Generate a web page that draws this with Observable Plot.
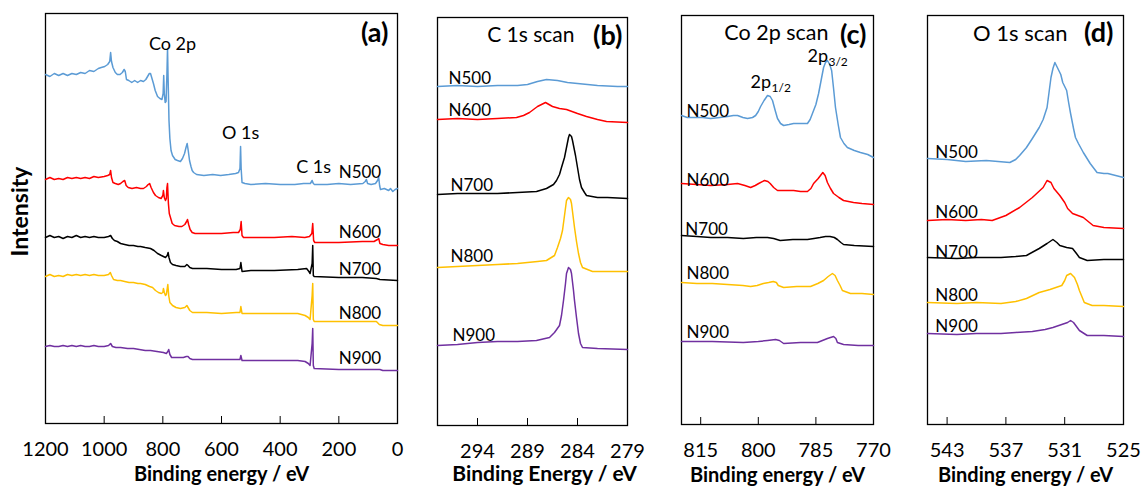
<!DOCTYPE html>
<html><head><meta charset="utf-8">
<script src="https://cdn.jsdelivr.net/npm/d3@7"></script>
<script src="https://cdn.jsdelivr.net/npm/@observablehq/plot@0.6"></script>
<style>
body{margin:0;background:#fff;}
#chart{position:relative;width:1142px;height:486px;}
#chart svg{position:absolute;top:0;overflow:visible;}
</style></head><body><div id="chart"></div>
<script>
const samples = ["N500", "N600", "N700", "N800", "N900"];
const colors = ["#5B9BD5", "#FF0000", "#000000", "#FFC000", "#7030A0"];

// (a) survey: [binding energy eV, intensity a.u.]
const surveyN500 = [[1200,349],[1185,347],[1170,350],[1155,348],[1140,350],[1125,348],[1110,350],[1095,349],[1080,351],[1065,350],[1050,353],[1035,352],[1020,355],[1010,356],[998,357],[988,359],[981,362],[978,371],[975,362],[970,356],[962,351],[955,349],[946,349],[938,351],[932,354],[928,352],[924,344],[916,343],[906,341],[896,343],[886,341],[876,343],[866,342],[858,344],[852,347],[846,350],[842,350],[838,346],[832,340],[826,333],[818,327],[810,325],[803,324],[799,330],[797,348],[795,330],[792,321],[789,322],[786,350],[784,375],[782,345],[779,303],[776,285],[772,273],[767,268],[758,264],[750,263],[740,262],[733,265],[726,270],[721,276],[717,280],[713,272],[709,263],[704,257],[700,253],[695,251],[685,249],[660,248],[630,249],[603,248],[575,249],[552,250],[542,251],[537,255],[535,277],[533,255],[530,241],[520,240],[500,239],[450,240],[400,239],[350,239],[320,240],[297,240],[291,243],[287,240],[283,239],[240,239],[200,240],[160,239],[118,240],[110,242],[106,244],[102,240],[90,239],[75,240],[68,243],[64,246],[61,238],[58,234],[45,235],[30,233],[24,235],[16,232],[8,234],[0,235]];
const surveyN600 = [[1200,244],[1185,246],[1170,244],[1155,245],[1140,244],[1125,246],[1110,245],[1095,246],[1080,245],[1065,246],[1050,245],[1035,247],[1020,246],[1000,247],[988,248],[981,249],[978,253],[975,246],[970,241],[962,240],[952,239],[944,240],[936,242],[930,243],[925,238],[918,236],[905,235],[890,236],[876,235],[866,235],[856,237],[850,239],[845,240],[840,236],[832,231],[825,228],[815,226],[806,225],[800,228],[798,233],[795,226],[791,223],[788,225],[786,236],[784,240],[781,220],[778,210],[774,206],[768,200],[760,198],[745,197],[735,197],[725,199],[719,202],[716,204],[712,199],[707,194],[700,191],[690,190],[650,190],[600,190],[560,191],[542,191],[536,194],[533,202],[530,188],[525,186],[480,186],[420,186],[360,187],[316,186],[300,187],[292,190],[289,200],[286,183],[282,181],[200,181],[120,182],[80,182],[68,184],[64,185],[60,180],[50,179],[30,178],[0,178]];
const surveyN700 = [[1200,186],[1185,188],[1170,186],[1155,187],[1140,185],[1125,187],[1110,186],[1095,188],[1080,186],[1065,187],[1050,186],[1035,187],[1020,186],[1000,186],[985,187],[978,188],[972,185],[965,183],[955,182],[944,180],[930,179],[915,178],[900,178],[885,177],[876,177],[860,176],[842,175],[830,173],[818,170],[805,168],[791,166],[785,168],[782,171],[779,166],[774,161],[767,159],[755,158],[740,157],[725,157],[718,159],[714,158],[708,156],[699,155],[650,155],[600,154],[550,154],[537,155],[534,161],[530,152],[500,153],[420,153],[340,154],[310,155],[302,152],[298,150],[291,160],[289,178],[287,148],[284,147],[200,146],[120,146],[72,145],[60,144],[0,143]];
const surveyN800 = [[1200,147],[1185,149],[1170,147],[1155,148],[1140,147],[1125,149],[1110,148],[1095,149],[1080,148],[1065,149],[1050,148],[1035,149],[1020,148],[1000,148],[985,149],[979,151],[975,148],[968,144],[955,143],[944,143],[930,142],[915,141],[900,141],[885,140],[876,140],[860,139],[845,137],[835,136],[825,133],[815,131],[805,130],[800,131],[798,135],[795,131],[791,128],[788,129],[785,135],[783,139],[780,128],[776,121],[767,118],[755,116],[740,115],[725,116],[718,118],[714,116],[708,113],[699,111],[650,111],[600,110],[550,111],[537,111],[534,117],[530,110],[500,110],[420,110],[340,110],[315,108],[304,106],[298,104],[291,128],[289,140],[287,104],[284,102],[200,102],[120,102],[72,102],[62,99],[50,98],[0,98]];
const surveyN900 = [[1200,77],[1185,78],[1170,77],[1155,77],[1140,78],[1125,77],[1110,78],[1095,77],[1080,78],[1065,77],[1050,77],[1035,78],[1020,77],[1000,77],[985,78],[978,80],[972,77],[960,76],[944,76],[920,75],[900,75],[880,74],[860,73],[842,73],[820,72],[798,71],[788,70],[783,72],[780,74],[776,69],[770,66],[750,66],[730,66],[720,67],[714,67],[708,65],[699,64],[650,64],[600,64],[550,64],[537,64],[534,68],[530,63],[500,63],[420,63],[340,63],[315,62],[304,60],[298,58],[291,80],[289,95],[287,58],[284,55],[200,54],[120,54],[60,54],[50,53],[0,53]];

// (b) C 1s
const c1sN500 = [[298,339],[296,340],[294,339],[292,340],[290,340],[289,341],[288,344],[287.1,346],[286,345],[285,343],[284,342],[283,341],[282,340],[280,339],[279,339]];
const c1sN600 = [[298,306],[296,307],[294,306],[292,307],[290.1,308],[289.4,310],[288.8,313],[288,319],[287.2,323],[286.5,319],[285.8,317],[285.1,316],[284,312],[283.1,309],[282,306],[281.1,304],[279,303]];
const c1sN700 = [[298,231],[296,232],[294,232],[292,232],[290,233],[288.1,234],[287.1,237],[286.4,241],[286.1,245],[285.8,251],[285.6,258],[285.3,268],[285.1,278],[284.9,288],[284.8,291],[284.6,289],[284.5,285],[284.2,270],[284.0,258],[283.8,246],[283.6,238],[283.3,233],[283.1,230],[282,228],[281,228],[279,227]];
const c1sN800 = [[298,158],[296,159],[294,160],[292,161],[290,162],[288,164],[287.1,165],[286.3,170],[286.0,178],[285.7,187],[285.5,195],[285.3,210],[285.1,225],[284.9,228],[284.7,226],[284.6,222],[284.3,198],[284.1,184],[283.9,172],[283.7,163],[283.5,158],[283,156],[282.5,154],[281,154],[279,154]];
const c1sN900 = [[298,80],[296,81],[294,83],[292,84],[290,84],[288.1,85],[286.8,88],[286.3,93],[285.8,100],[285.6,110],[285.4,125],[285.2,142],[285.1,152],[284.9,158],[284.7,156],[284.6,152],[284.4,135],[284.3,125],[284.1,108],[283.9,92],[283.7,82],[283.5,78],[282,77],[279,76]];

// (c) Co 2p
const co2pN500 = [[820,309],[818.5,307],[816.9,307],[814.5,307],[812.4,306],[810,307],[808,308],[806.5,309],[805.4,309],[804,307],[802.8,306],[801.5,307],[800.7,309],[800,313],[799.4,318],[798.5,324],[797.6,329],[796.9,328],[796.3,324],[795.6,314],[795,306],[794.2,301],[793.4,299],[792,300],[790.8,301],[789,301],[787.2,301],[786.5,305],[785.9,311],[785,320],[784.3,331],[783.6,345],[783,357],[782.5,362],[782,364],[781.4,360],[780.9,354],[780.4,336],[779.9,317],[779.2,300],[778.6,287],[777.7,281],[776.8,277],[775,274],[773.4,272],[771.5,270],[770,267]];
const co2pN600 = [[820,241],[816,240],[812.4,239],[808,240],[805.4,241],[803.5,239],[802,237],[800.8,239],[799.9,241],[798.4,244],[797.5,243],[796.9,241],[796,237],[795,234],[793,234],[790.8,234],[789,233],[787.2,233],[786.3,236],[785.6,241],[784.4,246],[783.2,252],[782.6,249],[782,242],[781.2,236],[780.4,231],[779,227],[777.8,224],[775.2,222],[773,221],[770,220]];
const co2pN700 = [[820,189],[816,188],[812.4,187],[808,187],[803.9,186],[800.5,187],[797.6,187],[796,186],[794.3,184],[791,185],[787.2,185],[785.5,186],[783.9,187],[782.5,188],[781.3,188],[780.2,187],[779.4,185],[778.5,182],[777.8,180],[775,179],[770,178]];
const co2pN800 = [[820,142],[816,141],[812,141],[808,140],[804,139],[802,138],[800.3,139],[798.7,141],[797.3,142],[796.1,143],[795.3,142],[794.8,139],[793.4,137],[790,138],[786.4,138],[784.5,141],[783,144],[781.8,148],[780.7,151],[780,149],[779.4,144],[778.7,139],[778.1,134],[776,131],[773,131],[770,130]];
const co2pN900 = [[820,83],[812,83],[803.9,82],[800,83],[797.6,84],[795.5,85],[794.5,84],[793.4,81],[789,82],[784.6,82],[782,86],[780.4,88],[779.8,86],[779.4,82],[777.8,80],[774,79],[770,79]];

// (d) O 1s
const o1sN500 = [[545,266],[543,265],[541.1,263],[539,264],[536.6,262],[536,265],[535.6,269],[534.9,277],[534.3,286],[533.6,297],[533.2,305],[532.8,317],[532.6,332],[532.4,347],[532.2,356],[532.0,362],[531.8,358],[531.7,356],[531.4,350],[531.2,342],[530.8,334],[530.6,322],[530.4,311],[530.1,296],[529.9,287],[529.6,281],[529.1,272],[528.4,261],[527.7,252],[527,251],[526.6,251],[525.8,249],[525,247]];
const o1sN600 = [[545,204],[543,205],[541.1,204],[539.5,205],[538.4,204],[537,209],[535.6,217],[534.3,227],[533.2,237],[532.8,244],[532.4,242],[532.1,236],[531.5,229],[531,222],[530.7,216],[530.2,211],[529.1,207],[528.1,199],[527,197],[525,196]];
const o1sN700 = [[545,167],[542,166],[540,167],[537.5,167],[536,168],[534.9,169],[533.6,176],[532.8,181],[532.2,185],[531.8,182],[531.5,179],[530.8,177],[530.2,176],[529.8,171],[529.5,167],[528.7,164],[527,165],[525,165]];
const o1sN800 = [[545,122],[542,121],[540,122],[537.5,121],[536,123],[534.9,126],[533.6,132],[532.5,135],[531.9,137],[531.3,139],[531,144],[530.8,149],[530.4,151],[530,147],[529.7,140],[529.5,134],[529,122],[528.2,119],[527,119],[525,118]];
const o1sN900 = [[545,91],[542,90],[540,91],[537.5,91],[536,92],[534.3,93],[533,95],[532.2,97],[531.3,100],[530.7,102],[530.4,104],[530.1,102],[529.5,94],[528.7,89],[527,89],[525,88]];

// tick labels
const surveyTicks = [1200, 1000, 800, 600, 400, 200, 0];
const c1sTicks = [294, 289, 284, 279];
const co2pTicks = [815, 800, 785, 770];
const o1sTicks = [543, 537, 531, 525];

// sample label anchors [eV, intensity]
const surveyLabelAt = [[128,251],[128,191],[128,154],[128,110],[128,65]];
const c1sLabelAt = [[296.9,347],[296.9,315],[296.7,240],[296.7,169],[296.5,90]];
const co2pLabelAt = [[818.7,313],[818.7,244],[819,195],[818.7,151],[818.7,92]];
const o1sLabelAt = [[544.2,272],[544.2,212],[544.2,172],[544.2,129],[544.2,98]];

// peak annotations
const surveyPeaks = [["Co 2p", 767, 379], ["O 1s", 535, 290], ["C 1s", 286, 256]];
const co2pPeaks = [["2p", "1/2", 802, 342], ["2p", "3/2", 787.2, 368]];

const FONT = "Lato, 'Open Sans', sans-serif";

function panel(cfg) {
  const marks = [
    Plot.axisX({ticks: cfg.ticks, tickSize: -7, tickPadding: 25, fontSize: 20, tickFormat: d => String(d), label: null}),
    Plot.frame({stroke: "#000", strokeWidth: 1.3})
  ];
  cfg.series.forEach((s, i) => marks.push(Plot.line(s, {x: d => d[0], y: d => d[1], stroke: colors[i], strokeWidth: 1.5})));
  marks.push(Plot.text(cfg.labelAt, {x: d => d[0], y: d => d[1], text: (d, i) => samples[i], textAnchor: cfg.labelAnchor, lineAnchor: "middle", fontSize: 17, fill: "#000"}));
  marks.push(Plot.text([cfg.xLabel], {frameAnchor: "bottom", text: d => d, textAnchor: "middle", lineAnchor: "middle", dy: cfg.xLabelDy || 51, dx: cfg.xLabelDx || 0, fontWeight: "bold", fontSize: cfg.xLabelSize || 20}));
  marks.push(Plot.text([cfg.tag], {frameAnchor: "top-right", text: d => d, textAnchor: "end", lineAnchor: "middle", dx: cfg.tagDx, dy: cfg.tagDy, fontWeight: "bold", fontSize: 27}));
  if (cfg.title) marks.push(Plot.text([cfg.title], {frameAnchor: "top-right", text: d => d, textAnchor: "end", lineAnchor: "middle", dx: cfg.titleDx, dy: cfg.titleDy, fontSize: cfg.titleSize}));
  if (cfg.extra) marks.push(...cfg.extra);
  return Plot.plot({
    width: cfg.width, height: 486,
    marginLeft: cfg.mL, marginRight: cfg.mR, marginTop: cfg.mT, marginBottom: 486 - cfg.bottom,
    x: {domain: cfg.domain},
    y: {domain: [0, cfg.bottom - cfg.mT], axis: null},
    style: {fontFamily: FONT, fontSize: "17px", overflow: "visible", background: "transparent", color: "#000"},
    marks
  });
}

const chart = document.getElementById("chart");
const specs = [
  {left: 0, width: 410, mL: 45, mR: 13, mT: 13, bottom: 423, domain: [1200, 0], ticks: surveyTicks,
   series: [surveyN500, surveyN600, surveyN700, surveyN800, surveyN900], labelAt: surveyLabelAt, labelAnchor: "middle",
   xLabel: "Binding energy / eV", tag: "(a)", tagDx: -9, tagDy: 20,
   extra: [
     Plot.text(surveyPeaks, {x: d => d[1], y: d => d[2], text: d => d[0], lineAnchor: "middle", fontSize: 18}),
     Plot.text(["Intensity"], {frameAnchor: "left", text: d => d, textAnchor: "middle", lineAnchor: "middle", rotate: -90, dx: -25, dy: -7, fontWeight: "bold", fontSize: 23})
   ]},
  {left: 410, width: 240, mL: 27, mR: 23, mT: 17, bottom: 425, domain: [298, 279], ticks: c1sTicks,
   series: [c1sN500, c1sN600, c1sN700, c1sN800, c1sN900], labelAt: c1sLabelAt, labelAnchor: "start",
   xLabel: "Binding Energy / eV", xLabelDx: 12, xLabelDy: 49, xLabelSize: 21, tag: "(b)", tagDx: -5, tagDy: 19,
   title: "C 1s scan", titleDx: -53, titleDy: 18, titleSize: 21},
  {left: 650, width: 240, mL: 31, mR: 17, mT: 15, bottom: 424, domain: [820, 770], ticks: co2pTicks,
   series: [co2pN500, co2pN600, co2pN700, co2pN800, co2pN900], labelAt: co2pLabelAt, labelAnchor: "start",
   xLabel: "Binding energy / eV", tag: "(c)", tagDx: -7, tagDy: 20,
   title: "Co 2p scan", titleDx: -45, titleDy: 18, titleSize: 21.5,
   extra: [
     Plot.text(co2pPeaks, {x: d => d[2], y: d => d[3], text: d => d[0], textAnchor: "start", lineAnchor: "middle", fontSize: 18}),
     Plot.text(co2pPeaks, {x: d => d[2], y: d => d[3], text: d => d[1], textAnchor: "start", lineAnchor: "middle", dx: 21, dy: 6, fontSize: 12})
   ]},
  {left: 890, width: 252, mL: 37, mR: 19, mT: 15, bottom: 424, domain: [545, 525], ticks: o1sTicks,
   series: [o1sN500, o1sN600, o1sN700, o1sN800, o1sN900], labelAt: o1sLabelAt, labelAnchor: "start",
   xLabel: "Binding energy / eV", tag: "(d)", tagDx: -10, tagDy: 18,
   title: "O 1s scan", titleDx: -56, titleDy: 18, titleSize: 22}
];
for (const s of specs) {
  const svg = panel(s);
  svg.style.left = s.left + "px";
  chart.appendChild(svg);
}
</script></body></html>
